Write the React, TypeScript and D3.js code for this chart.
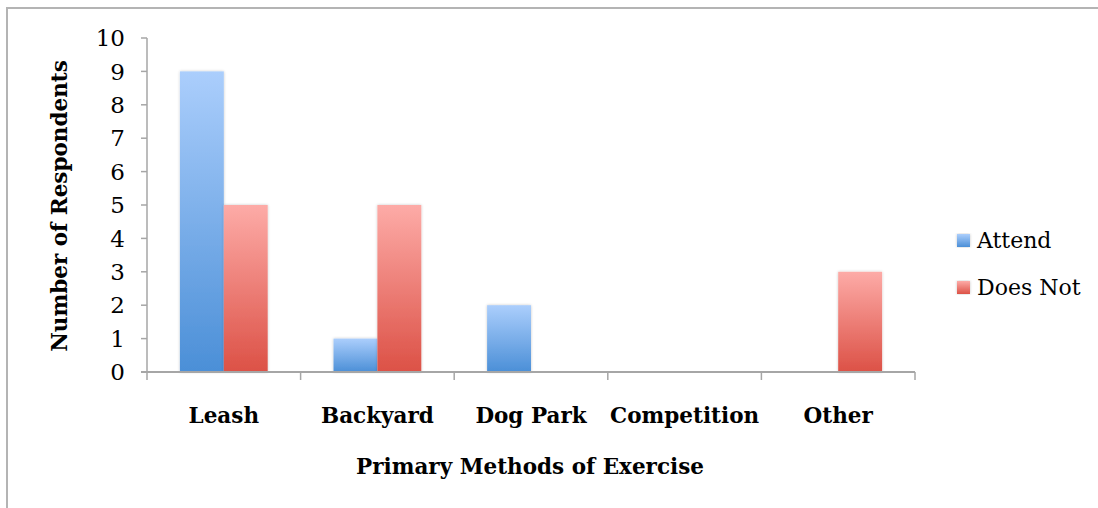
import React from "react";
import * as d3 from "d3";

const categories = ["Leash", "Backyard", "Dog Park", "Competition", "Other"];
const seriesNames = ["Attend", "Does Not"];
const attend = [9, 1, 2, 0, 0];
const doesNot = [5, 5, 0, 0, 3];
const yTicks = [0, 1, 2, 3, 4, 5, 6, 7, 8, 9, 10];

const W = 1098;
const H = 508;
const margin = { left: 147, right: 183, top: 38, bottom: 136 };
const FONT = "'DejaVu Serif', serif";

const gradients = [
  { id: "gAttend", top: "#abcefc", bottom: "#4b8fd7" },
  { id: "gDoesNot", top: "#fdaba7", bottom: "#dc5146" },
];

export default function App() {
  const x0 = d3
    .scaleBand<string>()
    .domain(categories)
    .range([margin.left, W - margin.right]);
  const bw = x0.bandwidth();
  // gap width 150% of a bar: band = 2 bars + 1.5 bar
  const barW = bw / 3.5;
  const x1 = d3
    .scaleBand<string>()
    .domain(seriesNames)
    .range([bw * 0.75 / 3.5, bw * 0.75 / 3.5 + 2 * barW])
    .padding(0);
  const y = d3
    .scaleLinear()
    .domain([0, 10])
    .range([H - margin.bottom, margin.top]);

  const data = categories.map((c, i) => ({
    cat: c,
    values: [attend[i], doesNot[i]],
  }));

  const axisColor = "#a6a6a6";
  const y0 = y(0);
  const xEnd = W - margin.right;

  return (
    <svg
      width={W}
      height={H}
      style={{ position: "absolute", left: 0, top: 0, background: "#fff" }}
    >
      <defs>
        {gradients.map((g) => (
          <linearGradient key={g.id} id={g.id} x1="0" y1="0" x2="0" y2="1">
            <stop offset="0" stopColor={g.top} />
            <stop offset="1" stopColor={g.bottom} />
          </linearGradient>
        ))}
        <filter id="shadow" x="-20%" y="-5%" width="140%" height="110%">
          <feGaussianBlur in="SourceAlpha" stdDeviation="1.6" />
          <feOffset dx="0" dy="0" result="b" />
          <feComponentTransfer>
            <feFuncA type="linear" slope="0.22" />
          </feComponentTransfer>
          <feMerge>
            <feMergeNode />
            <feMergeNode in="SourceGraphic" />
          </feMerge>
        </filter>
      </defs>

      {/* chart frame */}
      <rect
        x={7}
        y={8}
        width={W + 20}
        height={H + 20}
        fill="none"
        stroke="#b4b4b4"
        strokeWidth={2}
      />

      {/* bars */}
      {data.map((d) => (
        <g key={d.cat} transform={`translate(${x0(d.cat)},0)`}>
          {d.values.map((v, j) =>
            v > 0 ? (
              <rect
                key={j}
                x={x1(seriesNames[j])}
                y={y(v)}
                width={barW}
                height={y0 - y(v)}
                fill={`url(#${gradients[j].id})`}
                filter="url(#shadow)"
              />
            ) : null
          )}
        </g>
      ))}

      {/* y axis */}
      <line x1={margin.left} x2={margin.left} y1={y(10)} y2={y0 + 8} stroke={axisColor} strokeWidth={1.5} />
      {yTicks.map((t) => (
        <g key={t}>
          <line x1={margin.left - 6} x2={margin.left} y1={y(t)} y2={y(t)} stroke={axisColor} strokeWidth={1.5} />
          <text
            x={margin.left - 22}
            y={y(t)}
            dy="0.36em"
            textAnchor="end"
            fontFamily={FONT}
            fontSize={23}
            fill="#000"
          >
            {t}
          </text>
        </g>
      ))}

      {/* x axis */}
      <line x1={margin.left - 6} x2={xEnd} y1={y0} y2={y0} stroke={axisColor} strokeWidth={2} />
      {categories.map((c) => (
        <line
          key={c}
          x1={(x0(c) as number) + bw}
          x2={(x0(c) as number) + bw}
          y1={y0}
          y2={y0 + 8}
          stroke={axisColor}
          strokeWidth={1.5}
        />
      ))}
      {categories.map((c) => (
        <text
          key={c}
          x={(x0(c) as number) + bw / 2}
          y={423}
          textAnchor="middle"
          fontFamily={FONT}
          fontWeight="bold"
          fontSize={21.5}
          fill="#000"
        >
          {c}
        </text>
      ))}

      {/* axis titles */}
      <text
        x={530}
        y={474}
        textAnchor="middle"
        fontFamily={FONT}
        fontWeight="bold"
        fontSize={21.5}
        fill="#000"
      >
        Primary Methods of Exercise
      </text>
      <text
        transform={`translate(67,${(y(10) + y0) / 2 + 1}) rotate(-90)`}
        textAnchor="middle"
        fontFamily={FONT}
        fontWeight="bold"
        fontSize={21.5}
        fill="#000"
      >
        Number of Respondents
      </text>

      {/* legend */}
      {seriesNames.map((s, i) => (
        <g key={s} transform={`translate(957,${234 + i * 47})`}>
          <rect width={13} height={13} fill={`url(#${gradients[i].id})`} filter="url(#shadow)" />
          <text x={20} y={14} fontFamily={FONT} fontSize={22} fill="#000">
            {s}
          </text>
        </g>
      ))}
    </svg>
  );
}
